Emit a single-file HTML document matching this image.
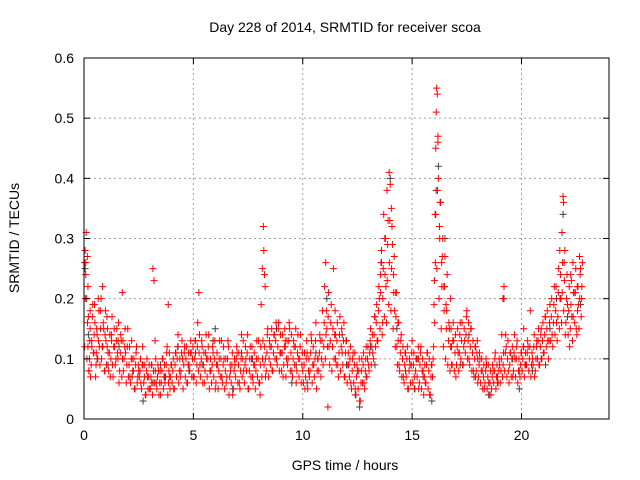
<!DOCTYPE html>
<html><head><meta charset="utf-8"><style>
body{margin:0;background:#fff;}
svg{display:block;font-family:"Liberation Sans",sans-serif;}
</style></head><body>
<svg id="chart" width="640" height="480" xmlns="http://www.w3.org/2000/svg">
<rect width="640" height="480" fill="#fff"/>
<text x="345" y="32" font-size="14" text-anchor="middle" fill="#000">Day 228 of 2014, SRMTID for receiver scoa</text>
<text x="345" y="470" font-size="14" text-anchor="middle">GPS time / hours</text>
<text transform="translate(19,238) rotate(-90)" font-size="14" text-anchor="middle">SRMTID / TECUs</text>
<g id="grid"></g><g id="marks"></g><g id="axes"></g>
</svg>
<script>
const xTicks=[0,5,10,15,20];
const yTicks=[0,0.1,0.2,0.3,0.4,0.5,0.6];
const yTickLabels=["0","0.1","0.2","0.3","0.4","0.5","0.6"];
const greyObs=[[0.05,0.25],[0.2,0.14],[0.6,0.1],[1.1,0.09],[1.6,0.12],[2.2,0.07],[2.7,0.03],[3.1,0.06],[3.5,0.09],[3.9,0.11],[4.3,0.12],[4.8,0.08],[5.4,0.09],[5.9,0.13],[6.3,0.07],[6.8,0.05],[7.2,0.11],[7.7,0.1],[8.3,0.07],[8.8,0.15],[9.2,0.12],[9.7,0.09],[10.2,0.06],[10.6,0.11],[11.1,0.2],[11.5,0.1],[12.0,0.09],[12.4,0.04],[12.6,0.02],[12.9,0.07],[13.3,0.09],[13.6,0.26],[14.0,0.4],[14.3,0.15],[14.7,0.08],[15.1,0.05],[15.5,0.07],[15.9,0.03],[16.1,0.38],[16.2,0.42],[16.5,0.3],[16.8,0.12],[17.2,0.09],[17.6,0.14],[18.0,0.1],[18.5,0.04],[18.9,0.07],[19.2,0.2],[19.6,0.1],[20.1,0.12],[20.5,0.08],[20.9,0.1],[21.3,0.15],[21.6,0.2],[21.9,0.34],[22.1,0.17],[22.4,0.21],[22.7,0.19],[3.7,0.07],[5.1,0.11],[6.0,0.15],[9.5,0.06],[11.8,0.14],[13.1,0.12],[15.3,0.1],[17.9,0.07],[19.9,0.05],[21.1,0.09]];
const redObs=[[0.02,0.26],[0.05,0.28],[0.08,0.24],[0.1,0.31],[0.12,0.2],[0.15,0.27],[0.18,0.12],[0.2,0.17],[0.22,0.08],[0.25,0.1],[0.28,0.15],[0.3,0.07],[0.35,0.13],[0.4,0.19],[0.45,0.11],[0.5,0.16],[0.55,0.09],[0.6,0.14],[0.65,0.2],[0.7,0.12],[0.75,0.18],[0.8,0.1],[0.85,0.22],[0.9,0.15],[0.95,0.08],[1.0,0.13],[1.05,0.17],[1.1,0.11],[1.2,0.07],[1.25,0.14],[1.3,0.09],[1.4,0.12],[1.5,0.15],[1.55,0.1],[1.6,0.06],[1.7,0.13],[1.75,0.21],[1.8,0.08],[1.9,0.11],[2.0,0.15],[2.1,0.07],[2.2,0.1],[2.3,0.05],[2.4,0.12],[2.5,0.08],[2.6,0.06],[2.7,0.09],[2.8,0.04],[2.9,0.07],[3.0,0.05],[3.1,0.09],[3.15,0.25],[3.2,0.23],[3.25,0.13],[3.3,0.06],[3.4,0.08],[3.5,0.04],[3.6,0.1],[3.7,0.06],[3.8,0.12],[3.85,0.19],[3.9,0.07],[4.0,0.09],[4.1,0.05],[4.2,0.11],[4.3,0.14],[4.4,0.07],[4.5,0.1],[4.6,0.12],[4.7,0.06],[4.8,0.09],[4.9,0.11],[5.0,0.07],[5.1,0.13],[5.2,0.16],[5.25,0.21],[5.3,0.09],[5.4,0.12],[5.5,0.06],[5.6,0.1],[5.7,0.14],[5.8,0.08],[5.9,0.11],[6.0,0.05],[6.1,0.09],[6.2,0.13],[6.3,0.07],[6.4,0.1],[6.5,0.06],[6.6,0.12],[6.7,0.08],[6.8,0.04],[6.9,0.09],[7.0,0.11],[7.1,0.06],[7.2,0.14],[7.3,0.08],[7.4,0.1],[7.5,0.05],[7.6,0.12],[7.7,0.07],[7.8,0.09],[7.9,0.13],[8.0,0.06],[8.05,0.04],[8.1,0.19],[8.15,0.25],[8.2,0.32],[8.22,0.28],[8.25,0.24],[8.3,0.1],[8.4,0.15],[8.5,0.12],[8.6,0.08],[8.7,0.14],[8.8,0.1],[8.9,0.16],[9.0,0.11],[9.1,0.07],[9.2,0.13],[9.3,0.09],[9.4,0.15],[9.5,0.08],[9.6,0.12],[9.7,0.06],[9.8,0.1],[9.9,0.14],[10.0,0.08],[10.1,0.05],[10.2,0.11],[10.3,0.07],[10.4,0.13],[10.5,0.09],[10.6,0.16],[10.7,0.1],[10.8,0.13],[10.9,0.18],[11.0,0.22],[11.05,0.26],[11.1,0.15],[11.15,0.02],[11.2,0.12],[11.3,0.19],[11.4,0.25],[11.5,0.14],[11.6,0.09],[11.7,0.17],[11.8,0.11],[11.9,0.07],[12.0,0.13],[12.1,0.09],[12.2,0.06],[12.3,0.11],[12.4,0.05],[12.5,0.08],[12.6,0.03],[12.7,0.1],[12.8,0.06],[12.9,0.12],[13.0,0.09],[13.1,0.15],[13.2,0.11],[13.3,0.17],[13.4,0.13],[13.5,0.2],[13.55,0.24],[13.6,0.28],[13.65,0.16],[13.7,0.34],[13.75,0.3],[13.8,0.22],[13.85,0.38],[13.9,0.33],[13.95,0.41],[14.0,0.39],[14.05,0.35],[14.1,0.29],[14.15,0.24],[14.2,0.18],[14.25,0.21],[14.3,0.12],[14.35,0.16],[14.4,0.09],[14.5,0.14],[14.6,0.07],[14.7,0.11],[14.8,0.05],[14.9,0.09],[15.0,0.13],[15.1,0.07],[15.2,0.1],[15.3,0.05],[15.4,0.12],[15.5,0.08],[15.6,0.06],[15.7,0.11],[15.8,0.04],[15.9,0.09],[16.0,0.19],[16.02,0.23],[16.05,0.34],[16.08,0.45],[16.1,0.51],[16.12,0.55],[16.15,0.54],[16.18,0.47],[16.2,0.4],[16.25,0.32],[16.3,0.36],[16.35,0.26],[16.4,0.3],[16.45,0.22],[16.5,0.27],[16.55,0.19],[16.6,0.24],[16.7,0.15],[16.75,0.2],[16.8,0.09],[16.9,0.13],[17.0,0.07],[17.1,0.11],[17.2,0.16],[17.3,0.09],[17.4,0.13],[17.5,0.18],[17.6,0.1],[17.7,0.15],[17.8,0.08],[17.9,0.12],[18.0,0.06],[18.1,0.1],[18.2,0.08],[18.3,0.05],[18.4,0.09],[18.5,0.06],[18.6,0.04],[18.7,0.08],[18.8,0.11],[18.9,0.06],[19.0,0.09],[19.1,0.14],[19.15,0.2],[19.2,0.22],[19.3,0.12],[19.4,0.08],[19.5,0.11],[19.6,0.07],[19.7,0.1],[19.8,0.13],[19.9,0.08],[20.0,0.11],[20.1,0.15],[20.2,0.09],[20.3,0.12],[20.4,0.18],[20.5,0.1],[20.6,0.07],[20.7,0.13],[20.8,0.09],[20.9,0.15],[21.0,0.11],[21.1,0.17],[21.2,0.13],[21.3,0.19],[21.4,0.14],[21.5,0.22],[21.6,0.16],[21.7,0.25],[21.75,0.28],[21.8,0.2],[21.85,0.31],[21.9,0.37],[21.92,0.36],[21.95,0.26],[22.0,0.14],[22.1,0.19],[22.2,0.12],[22.25,0.24],[22.3,0.17],[22.35,0.26],[22.4,0.21],[22.5,0.15],[22.55,0.22],[22.6,0.19],[22.65,0.27],[22.7,0.25],[22.75,0.2]];
// regularly sampled red tracks (one value every 0.1 h)
const redLow=[.12,.10,.08,.09,.11,.07,.10,.09,.12,.08, .09,.08,.10,.07,.09,.11,.08,.07,.10,.06, .07,.06,.08,.05,.06,.07,.05,.06,.04,.05, .05,.04,.06,.05,.04,.06,.05,.07,.04,.05, .06,.05,.07,.06,.08,.05,.07,.06,.08,.07, .07,.06,.08,.07,.06,.08,.07,.05,.06,.07, .06,.05,.07,.06,.05,.07,.04,.06,.05,.07, .06,.05,.07,.06,.08,.05,.07,.06,.05,.07, .06,.07,.09,.08,.07,.09,.08,.10,.09,.08, .08,.09,.07,.10,.08,.07,.09,.08,.07,.06, .06,.07,.05,.08,.06,.07,.05,.08,.07,.09, .10,.12,.09,.08,.10,.09,.07,.08,.09,.07, .06,.07,.05,.06,.04,.05,.03,.06,.05,.07, .08,.09,.10,.12,.13,.15,.14,.17,.16,.19, .18,.15,.12,.09,.08,.07,.06,.07,.05,.06, .06,.05,.07,.06,.05,.04,.06,.05,.04,.07, .16,.25,.20,.15,.12,.10,.09,.08,.09,.08, .09,.08,.10,.09,.11,.10,.09,.08,.07,.08, .07,.06,.05,.06,.05,.04,.05,.06,.05,.06, .06,.07,.08,.07,.06,.07,.08,.07,.06,.07, .08,.07,.09,.08,.07,.09,.08,.10,.09,.10, .11,.12,.10,.13,.12,.14,.13,.15,.16,.18, .16,.14,.15,.13,.16,.14,.15,.17];
const redMid=[.20,.16,.13,.12,.14,.11,.13,.15,.12,.14, .12,.11,.13,.12,.10,.13,.11,.10,.12,.09, .09,.10,.08,.09,.07,.08,.09,.07,.08,.07, .07,.06,.08,.07,.06,.08,.07,.09,.06,.07, .08,.09,.10,.08,.11,.09,.10,.09,.11,.10, .10,.09,.11,.10,.09,.11,.10,.08,.09,.10, .09,.08,.10,.09,.08,.10,.07,.09,.08,.10, .09,.08,.10,.09,.11,.08,.10,.09,.08,.10, .09,.10,.12,.11,.10,.12,.11,.13,.12,.11, .11,.12,.10,.13,.11,.10,.12,.11,.10,.09, .09,.10,.08,.11,.09,.10,.08,.11,.10,.12, .14,.17,.13,.12,.14,.13,.11,.12,.13,.11, .09,.10,.08,.09,.07,.08,.06,.09,.08,.10, .11,.12,.14,.16,.18,.21,.20,.24,.23,.26, .25,.21,.17,.13,.11,.10,.09,.10,.08,.09, .09,.08,.10,.09,.08,.07,.09,.08,.07,.10, .26,.38,.30,.22,.18,.15,.13,.12,.13,.11, .12,.11,.13,.12,.14,.13,.12,.11,.10,.11, .09,.08,.07,.08,.07,.06,.07,.08,.07,.08, .08,.09,.11,.10,.09,.10,.11,.10,.08,.09, .10,.09,.11,.10,.09,.12,.10,.13,.12,.13, .14,.15,.13,.17,.16,.18,.17,.20,.21,.23, .20,.18,.19,.17,.21,.18,.20,.22];
const redHigh=[.26,.22,.18,.17,.19,.15,.18,.20,.16,.18, .15,.14,.17,.15,.13,.16,.14,.13,.15,.12, .12,.13,.10,.11,.09,.10,.12,.09,.10,.09, .09,.08,.10,.09,.08,.10,.09,.11,.08,.09, .10,.11,.12,.10,.13,.11,.12,.11,.13,.12, .13,.12,.14,.13,.11,.14,.12,.10,.12,.13, .11,.10,.13,.12,.10,.13,.09,.11,.10,.12, .11,.10,.13,.12,.14,.10,.12,.11,.10,.13, .12,.13,.22,.14,.13,.15,.14,.16,.15,.14, .14,.15,.13,.16,.14,.13,.15,.14,.12,.11, .11,.13,.10,.14,.12,.13,.10,.14,.13,.16, .18,.21,.16,.15,.18,.16,.14,.15,.16,.13, .11,.12,.10,.11,.09,.10,.08,.11,.10,.12, .13,.14,.17,.19,.22,.26,.25,.30,.29,.33, .32,.27,.21,.16,.13,.12,.11,.12,.10,.11, .11,.10,.12,.11,.10,.09,.11,.10,.09,.12, .34,.46,.36,.27,.22,.18,.16,.15,.16,.14, .15,.14,.16,.15,.17,.16,.15,.13,.12,.13, .11,.10,.09,.10,.09,.08,.09,.10,.09,.10, .10,.11,.14,.13,.11,.12,.14,.12,.10,.11, .12,.11,.13,.12,.11,.14,.12,.15,.14,.16, .17,.18,.16,.20,.19,.22,.21,.24,.26,.28, .24,.22,.23,.21,.25,.22,.24,.26];
const TRACK_STEP=0.1;
const W0=84,W1=609,H0=58,H1=419,XMAX=24,YMAX=0.6;
const xs=v=>W0+(W1-W0)*v/XMAX, ys=v=>H1-(H1-H0)*v/YMAX;
const NS="http://www.w3.org/2000/svg";
function mk(tag,at,parent){const e=document.createElementNS(NS,tag);for(const k in at)e.setAttribute(k,at[k]);parent.appendChild(e);return e;}
const grid=document.getElementById('grid'),marks=document.getElementById('marks'),axes=document.getElementById('axes');
xTicks.forEach((t,i)=>{const x=xs(t);
 if(t>0){const g=mk('line',{x1:x,x2:x,y1:H0,y2:H1,stroke:'#a0a0a0','stroke-dasharray':'2,3'},grid);
 
 }
 mk('line',{x1:x,x2:x,y1:H1,y2:H1-6,stroke:'#000'},axes);mk('line',{x1:x,x2:x,y1:H0,y2:H0+6,stroke:'#000'},axes);
 const l=mk('text',{x:x,y:H1+21,'font-size':14,'text-anchor':'middle'},axes);l.textContent=String(t);
 
 });
yTicks.forEach((t,i)=>{const y=ys(t);
 if(t>0&&t<YMAX){const g=mk('line',{x1:W0,x2:W1,y1:y,y2:y,stroke:'#a0a0a0','stroke-dasharray':'2,3'},grid);
 
 }
 mk('line',{x1:W0,x2:W0+6,y1:y,y2:y,stroke:'#000'},axes);mk('line',{x1:W1,x2:W1-6,y1:y,y2:y,stroke:'#000'},axes);
 const l=mk('text',{x:W0-10,y:y+5,'font-size':14,'text-anchor':'end'},axes);l.textContent=yTickLabels[i];
 
 });
const fr=mk('rect',{x:W0,y:H0,width:W1-W0,height:H1-H0,fill:'none',stroke:'#000'},axes);


function plus(t,v,color,name){const x=xs(t),y=ys(v);
 const p=mk('path',{d:`M${x-3.5} ${y}H${x+3.5}M${x} ${y-3.5}V${y+3.5}`,stroke:color,'stroke-width':1,fill:'none'},marks);
 
 }
greyObs.forEach(d=>plus(d[0],d[1],'#404040','grey-point'));
redLow.forEach((v,i)=>plus(0.03+i*TRACK_STEP,v,'#ff0000','red-point'));
redMid.forEach((v,i)=>plus(0.06+i*TRACK_STEP,v,'#ff0000','red-point'));
redHigh.forEach((v,i)=>plus(0.08+i*TRACK_STEP,v,'#ff0000','red-point'));
redObs.forEach(d=>plus(d[0],d[1],'#ff0000','red-point'));
</script>
</body></html>
